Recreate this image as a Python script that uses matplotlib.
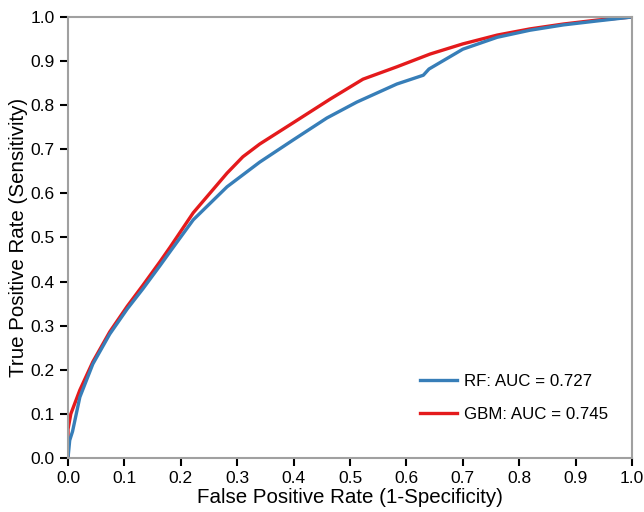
import matplotlib.pyplot as plt

plt.rcParams['font.family'] = ['Liberation Sans', 'DejaVu Sans']

# ROC points
rf_fpr = [0.0, 0.003, 0.008, 0.021, 0.044, 0.074, 0.105, 0.133, 0.163, 0.181, 0.222, 0.282,
          0.340, 0.399, 0.459, 0.512, 0.583, 0.630, 0.640, 0.700, 0.761, 0.819, 0.878, 0.938, 1.0]
rf_tpr = [0.0, 0.04, 0.06, 0.138, 0.213, 0.281, 0.338, 0.384, 0.436, 0.468, 0.540, 0.615,
          0.671, 0.721, 0.771, 0.807, 0.848, 0.868, 0.882, 0.927, 0.954, 0.970, 0.982, 0.991, 1.0]
gbm_fpr = [0.0, 0.0, 0.005, 0.021, 0.044, 0.074, 0.105, 0.133, 0.163, 0.181, 0.222, 0.282,
           0.310, 0.340, 0.399, 0.465, 0.523, 0.583, 0.642, 0.700, 0.761, 0.819, 0.878, 0.938, 1.0]
gbm_tpr = [0.0, 0.065, 0.10, 0.154, 0.218, 0.286, 0.344, 0.392, 0.445, 0.478, 0.556, 0.646,
           0.683, 0.712, 0.760, 0.814, 0.859, 0.887, 0.916, 0.939, 0.959, 0.973, 0.984, 0.993, 1.0]
labels = ['RF: AUC = 0.727', 'GBM: AUC = 0.745']

fig = plt.figure(figsize=(6.44, 5.12), dpi=100)
ax = fig.add_axes([0.1056, 0.1055, 0.8758, 0.8613])

l2, = ax.plot(gbm_fpr, gbm_tpr, color='#E41A1C', lw=2.4)
l1, = ax.plot(rf_fpr, rf_tpr, color='#377EB8', lw=2.4)

ax.set_xlim(0, 1)
ax.set_ylim(0, 1)
ticks = [i / 10 for i in range(11)]
ax.set_xticks(ticks)
ax.set_yticks(ticks)
ax.set_xticklabels([f'{t:.1f}' for t in ticks])
ax.set_yticklabels([f'{t:.1f}' for t in ticks])
ax.tick_params(direction='out', length=6, width=1.5, color='black', labelsize=12.5)
for s in ax.spines.values():
    s.set_color('#a0a0a0')
    s.set_linewidth(1.5)

ax.set_xlabel('False Positive Rate (1-Specificity)', fontsize=14.8, labelpad=1)
ax.set_ylabel('True Positive Rate (Sensitivity)', fontsize=14.8, labelpad=2)

ax.legend([l1, l2], labels, loc='lower right', bbox_to_anchor=(0.984, 0.048),
          frameon=False, fontsize=12.2, handlelength=2.2, handletextpad=0.4,
          labelspacing=1.05)

fig.savefig('out.png', dpi=100)
